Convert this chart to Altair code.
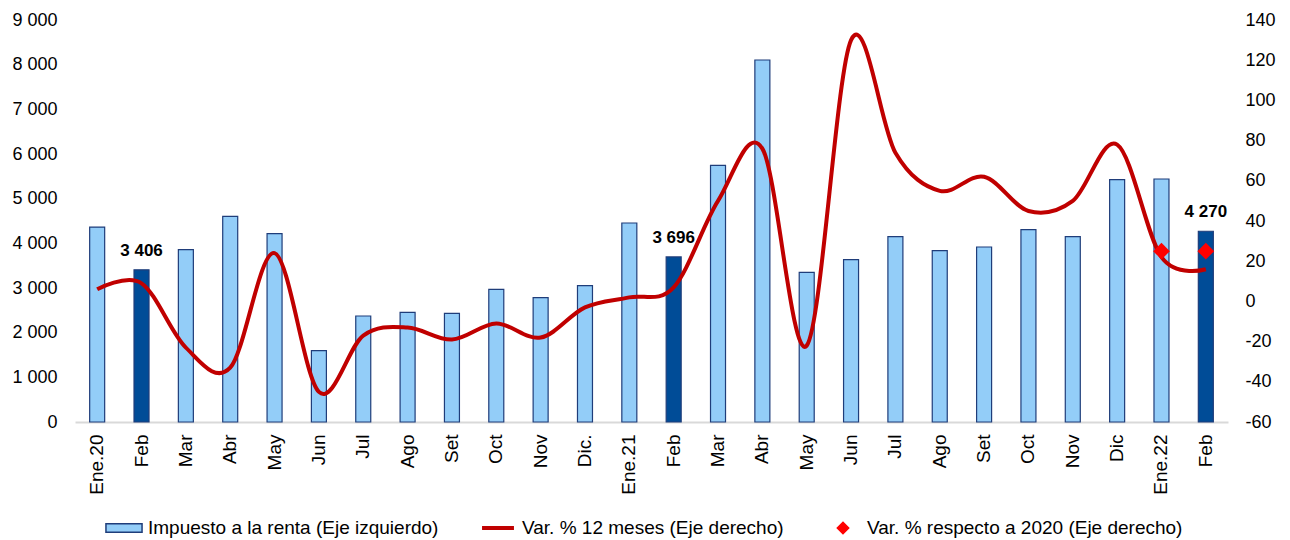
import altair as alt
import pandas as pd

categories = ["Ene.20", "Feb", "Mar", "Abr", "May", "Jun", "Jul", "Ago", "Set", "Oct", "Nov", "Dic.",
              "Ene.21", "Feb", "Mar", "Abr", "May", "Jun", "Jul", "Ago", "Set", "Oct", "Nov", "Dic",
              "Ene.22", "Feb"]
renta = [4365, 3406, 3858, 4604, 4216, 1597, 2373, 2455, 2433, 2970, 2783, 3052,
         4455, 3696, 5746, 8104, 3351, 3634, 4149, 3836, 3918, 4306, 4149, 5425,
         5440, 4270]
var12 = [6, 9, -23, -33, 24, -45, -17, -13, -19, -11, -18, -3,
         2, 7, 50, 76, -22, 130, 74, 55, 62, 45, 50, 78,
         22, 16]
var2020 = [None] * 24 + [25, 25]
highlight_idx = [1, 13, 25]

S1 = "Impuesto a la renta (Eje izquierdo)"
S2 = "Var. % 12 meses (Eje derecho)"
S3 = "Var. % respecto a 2020 (Eje derecho)"
SERIES = [S1, S2, S3]

LIGHT = "#93CDF8"
DARK = "#004C97"
NAVY = "#1F3D7A"
LINE = "#C00000"
DIAM = "#FF0000"

RECT_PATH = "M-0.95,-0.22L0.95,-0.22L0.95,0.22L-0.95,0.22Z"
LINE_PATH = "M-0.8,-0.07L0.8,-0.07L0.8,0.07L-0.8,0.07Z"
DIAM_PATH = "M-0.3,0L0,-0.3L0.3,0L0,0.3Z"

df = pd.DataFrame({
    "idx": list(range(len(categories))),
    "renta": renta,
    "var12": var12,
    "var2020": var2020,
    "hl": [i in highlight_idx for i in range(len(categories))],
})

label_expr = "[" + ",".join("'" + c + "'" for c in categories) + "][datum.value]"

fill_scale = alt.Scale(domain=SERIES, range=[LIGHT, LINE, DIAM])
stroke_scale = alt.Scale(domain=SERIES, range=[NAVY, LINE, DIAM])
shape_scale = alt.Scale(domain=SERIES, range=[RECT_PATH, LINE_PATH, DIAM_PATH])

FONT = "Liberation Sans"

legend = alt.Legend(
    title=None, orient="none", legendX=29, legendY=488, direction="horizontal",
    symbolSize=1444, symbolStrokeWidth=1.5, symbolOpacity=1,
    labelFontSize=19, labelFont=FONT, labelColor="#000",
    columnPadding=39, labelOffset=4, labelLimit=0,
)

x = alt.X("idx:O", scale=alt.Scale(paddingInner=0, paddingOuter=0),
          axis=alt.Axis(title=None, labelExpr=label_expr, labelAngle=-90, labelFontSize=19,
                        labelFont=FONT, labelColor="#000", ticks=False,
                        labelPadding=12, domainColor="#D9D9D9", domainWidth=2))

left_axis = alt.Axis(title=None, values=list(range(0, 9001, 1000)),
                     labelExpr="replace(format(datum.value, ','), ',', ' ')",
                     labelFontSize=18, labelFont=FONT, labelColor="#000",
                     domain=False, ticks=False, grid=False, labelPadding=18)
left_scale = alt.Scale(domain=[0, 9000])

right_axis = alt.Axis(title=None, orient="right", values=list(range(-60, 141, 20)),
                      labelExpr="'' + datum.value", labelFontSize=18, labelFont=FONT,
                      labelColor="#000", domain=False, ticks=False, grid=False, labelPadding=17)
right_scale = alt.Scale(domain=[-60, 140])

base = alt.Chart(df)

bars = base.mark_bar(size=15, strokeWidth=1.2).transform_calculate(
    serie=f"'{S1}'"
).encode(
    x=x,
    y=alt.Y("renta:Q", scale=left_scale, axis=left_axis, title=None),
    fill=alt.condition("datum.hl", alt.value(DARK),
                       alt.Fill("serie:N", scale=fill_scale, legend=legend)),
    stroke=alt.Stroke("serie:N", scale=stroke_scale, legend=legend),
)

labels = base.transform_filter("datum.hl").transform_calculate(
    lab="replace(format(datum.renta, ','), ',', ' ')"
).mark_text(fontWeight="bold", fontSize=17, font=FONT, dy=-19, color="#000").encode(
    x=x,
    y=alt.Y("renta:Q", scale=left_scale, axis=left_axis, title=None),
    text="lab:N",
)

line = base.mark_line(interpolate="cardinal", strokeWidth=4).transform_calculate(
    serie=f"'{S2}'"
).encode(
    x=x,
    y=alt.Y("var12:Q", scale=right_scale, axis=right_axis, title=None),
    stroke=alt.Stroke("serie:N", scale=stroke_scale, legend=legend),
)

points = base.transform_filter("isValid(datum.var2020)").transform_calculate(
    serie=f"'{S3}'"
).mark_point(filled=True, size=3100, opacity=1, strokeWidth=0).encode(
    x=x,
    y=alt.Y("var2020:Q", scale=right_scale, axis=right_axis, title=None),
    fill=alt.Fill("serie:N", scale=fill_scale, legend=legend),
    stroke=alt.Stroke("serie:N", scale=stroke_scale, legend=legend),
    shape=alt.Shape("serie:N", scale=shape_scale, legend=legend),
)

left = alt.layer(bars, labels)
right = alt.layer(line, points)

chart = alt.layer(left, right).resolve_scale(y="independent").properties(
    width=1153, height=402,
    padding={"left": 3, "top": 3, "right": 5, "bottom": 0},
    background="white",
).configure_view(stroke=None)

chart.save("out.html", embed_options={"renderer": "svg", "actions": False})
